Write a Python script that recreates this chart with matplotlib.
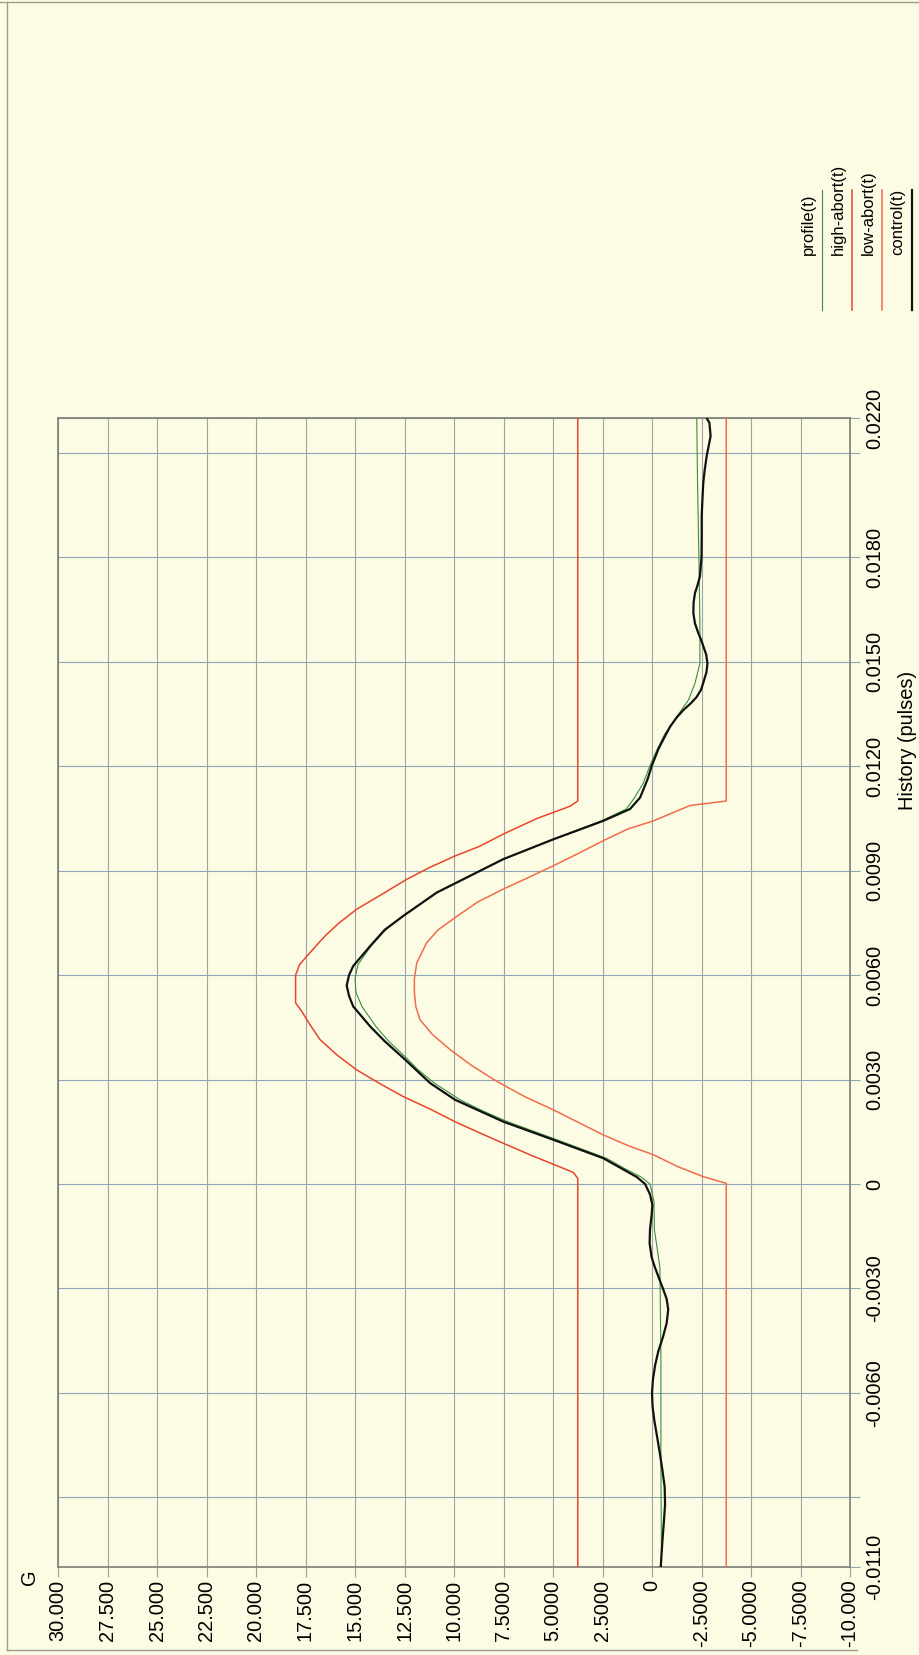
import matplotlib
matplotlib.use("Agg")
import matplotlib.pyplot as plt
from matplotlib.lines import Line2D

plt.rcParams['font.family'] = ['Liberation Sans', 'DejaVu Sans']

# axis ticks as printed on the (rotated) chart
g_ticks = [30, 27.5, 25, 22.5, 20, 17.5, 15, 12.5, 10, 7.5, 5, 2.5, 0, -2.5, -5, -7.5, -10]
g_labels = ["30.000", "27.500", "25.000", "22.500", "20.000", "17.500", "15.000", "12.500",
            "10.000", "7.5000", "5.0000", "2.5000", "0", "-2.5000", "-5.0000", "-7.5000", "-10.000"]
t_ticks = [-0.011, -0.009, -0.006, -0.003, 0, 0.003, 0.006, 0.009, 0.012, 0.015, 0.018, 0.021, 0.022]
t_labels = ["-0.0110", "", "-0.0060", "-0.0030", "0", "0.0030", "0.0060", "0.0090",
            "0.0120", "0.0150", "0.0180", "", "0.0220"]

# series: time (s) and G
profile_t = [-0.0110, -0.0080, -0.0050, -0.0024, -0.0013, -0.0005, 0.0000, 0.0002, 0.00045,
             0.00074, 0.00127, 0.00179, 0.0021, 0.00242, 0.0029, 0.0033, 0.00362, 0.0041,
             0.00453, 0.0051, 0.0055, 0.0059, 0.0063, 0.00683, 0.0073, 0.0077, 0.00837,
             0.00885, 0.00933, 0.0099, 0.01043, 0.01077, 0.01107, 0.0115, 0.01198, 0.01246,
             0.01294, 0.01342, 0.0139, 0.01438, 0.01495, 0.0160, 0.01726, 0.02014, 0.0220]
profile_g = [-0.48, -0.45, -0.45, -0.40, -0.12, -0.10, 0.10, 0.55, 1.40,
             2.30, 4.80, 7.30, 8.55, 9.70, 11.00, 11.85, 12.40, 13.30,
             13.95, 14.65, 14.95, 15.00, 14.85, 14.20, 13.45, 12.55, 10.90,
             9.20, 7.50, 5.00, 2.55, 1.30, 0.91, 0.45, 0.13, -0.24,
             -0.66, -1.25, -1.84, -2.17, -2.42, -2.42, -2.39, -2.30, -2.26]

high_t = [-0.0110, 0.00016, 0.00033, 0.00045, 0.0008, 0.00117, 0.00148, 0.00179, 0.00215,
          0.00251, 0.0029, 0.00328, 0.0037, 0.00415, 0.0046, 0.00496, 0.0052, 0.0060,
          0.0063, 0.00654, 0.00712, 0.0075, 0.00789, 0.0083, 0.00875, 0.0091, 0.00942,
          0.0097, 0.01005, 0.0105, 0.01085, 0.0110, 0.0220]
high_g = [3.75, 3.75, 3.97, 4.48, 6.00, 7.51, 8.75, 9.95, 11.20,
          12.56, 13.80, 14.92, 15.90, 16.77, 17.30, 17.69, 18.0, 18.0,
          17.80, 17.44, 16.52, 15.80, 14.92, 13.70, 12.39, 11.20, 9.95,
          8.70, 7.51, 5.80, 4.14, 3.75, 3.75]

low_t = [-0.0110, 0.00002, 0.00021, 0.0005, 0.00084, 0.0011, 0.00141, 0.00213, 0.0025,
         0.00295, 0.0034, 0.00386, 0.0043, 0.00472, 0.0051, 0.0055, 0.0059, 0.00635,
         0.00693, 0.0073, 0.00765, 0.0081, 0.00847, 0.0088, 0.00914, 0.0095, 0.00986,
         0.0102, 0.01043, 0.01087, 0.0110, 0.0220]
low_g = [-3.75, -3.75, -2.59, -1.30, -0.07, 1.20, 2.46, 4.98, 6.40,
         7.84, 9.10, 10.20, 11.10, 11.72, 11.93, 12.0, 12.0, 11.88,
         11.38, 10.80, 9.95, 8.80, 7.51, 6.25, 4.98, 3.70, 2.46,
         1.20, -0.07, -1.92, -3.75, -3.75]

control_t = [-0.0110, -0.0103, -0.0097, -0.0092, -0.0087, -0.0082, -0.00775, -0.0073, -0.0068,
             -0.0064, -0.0060, -0.0056, -0.0052, -0.0048, -0.0044, -0.0040, -0.0036, -0.0033,
             -0.0030, -0.0027, -0.0024, -0.0021, -0.0017, -0.0013, -0.0009, -0.0006, -0.0003,
             0.0000, 0.0002, 0.00045, 0.00074, 0.00127, 0.00179, 0.00242, 0.0029, 0.00362,
             0.0041, 0.00453, 0.0051, 0.0054, 0.0057, 0.0060, 0.00626, 0.00683, 0.0073,
             0.0077, 0.00837, 0.00885, 0.00933, 0.0099, 0.01043, 0.01077, 0.0111, 0.01163,
             0.0120, 0.0125, 0.0128, 0.01313, 0.0134, 0.01361, 0.0138, 0.01399, 0.0142,
             0.01447, 0.0147, 0.01495, 0.0152, 0.0156, 0.01582, 0.0161, 0.01639, 0.0167,
             0.01697, 0.0172, 0.01745, 0.0180, 0.0186, 0.01918, 0.0197, 0.02014, 0.0205,
             0.0209, 0.02148, 0.02186, 0.0220]
control_g = [-0.44, -0.52, -0.60, -0.66, -0.64, -0.52, -0.40, -0.27, -0.12,
             -0.03, 0.00, -0.05, -0.16, -0.32, -0.55, -0.74, -0.82, -0.74,
             -0.55, -0.35, -0.15, 0.02, 0.12, 0.10, 0.02, -0.02, 0.10,
             0.35, 0.77, 1.55, 2.46, 4.98, 7.51, 9.95, 11.21, 12.56,
             13.50, 14.24, 15.09, 15.30, 15.42, 15.30, 15.09, 14.24, 13.50,
             12.56, 10.87, 9.19, 7.51, 4.98, 2.46, 1.11, 0.60, 0.22,
             0.02, -0.33, -0.60, -0.91, -1.25, -1.58, -1.95, -2.26, -2.48,
             -2.63, -2.75, -2.80, -2.74, -2.50, -2.34, -2.17, -2.09, -2.10,
             -2.17, -2.30, -2.42, -2.50, -2.51, -2.51, -2.55, -2.59, -2.66,
             -2.76, -2.96, -2.90, -2.76]

legend_names = ["profile(t)", "high-abort(t)", "low-abort(t)", "control(t)"]
colors = ["#3a8f3f", "#e8452c", "#f26b4a", "#111111"]
widths = [0.8, 1.1, 1.1, 1.6]

paper = "#fcfce4"
W, H = 919, 1655
fig = plt.figure(figsize=(W / 100, H / 100), dpi=100, facecolor=paper)
ax = fig.add_axes([58 / W, 1 - 1567 / H, (850 - 58) / W, (1567 - 418) / H])
ax.set_facecolor(paper)

# chart is printed turned a quarter turn: G runs across, time runs up
series = [(profile_t, profile_g), (high_t, high_g), (low_t, low_g), (control_t, control_g)]
for (tt, gg), c, lw in zip(series, colors, widths):
    ax.plot(gg, tt, color=c, lw=lw, zorder=3, solid_joinstyle="round")

ax.set_xlim(30, -10)
ax.set_ylim(-0.011, 0.022)
ax.set_xticks(g_ticks)
ax.set_xticklabels(g_labels, rotation=90)
ax.yaxis.tick_right()
ax.set_yticks(t_ticks)
ax.set_yticklabels(t_labels, rotation=90, va="center")
ax.tick_params(axis="x", length=7, width=0.8, color="#9a9f9f", pad=2, labelsize=14.4)
ax.tick_params(axis="y", length=7, width=0.8, color="#8fa6b6", pad=4, labelsize=14.4)
ax.set_axisbelow(True)
ax.xaxis.grid(True, color="#a0a4a0", lw=0.8)
ax.yaxis.grid(True, color="#8fa6b6", lw=0.8)
for s in ax.spines.values():
    s.set_color("#7d7f74")
    s.set_linewidth(1.2)

ax.yaxis.set_label_position("right")
ax.set_ylabel("History (pulses)", fontsize=14.4)
ax.yaxis.set_label_coords(1.073, 0.719)
ax.yaxis.label.set_va("center")
ax.yaxis.label.set_ha("center")

fig.text(30 / W, 1 - 1577 / H, "G", rotation=90, ha="center", va="center", fontsize=14.4)

# legend, drawn by hand because it is turned as well
for i, (name, c, lw) in enumerate(zip(legend_names, colors, widths)):
    tx = 808 + 30 * i
    fig.text(tx / W, 1 - 255 / H, name, rotation=90, ha="center", va="bottom", fontsize=12)
    fig.add_artist(Line2D([(tx + 14) / W] * 2, [1 - 190 / H, 1 - 310 / H],
                          transform=fig.transFigure, color=c, lw=lw))

# page frame of the printout
frame = dict(transform=fig.transFigure, color="#9c9c8c", lw=1.0)
fig.add_artist(Line2D([7 / W, 7 / W], [1 - 2 / H, 1 - 1650 / H], **frame))
fig.add_artist(Line2D([7 / W, 857 / W], [1 - 1650 / H, 1 - 1650 / H], **frame))
fig.add_artist(Line2D([0, 1], [1 - 1.5 / H, 1 - 1.5 / H], **frame))

fig.savefig("out.png", dpi=100, facecolor=paper)
